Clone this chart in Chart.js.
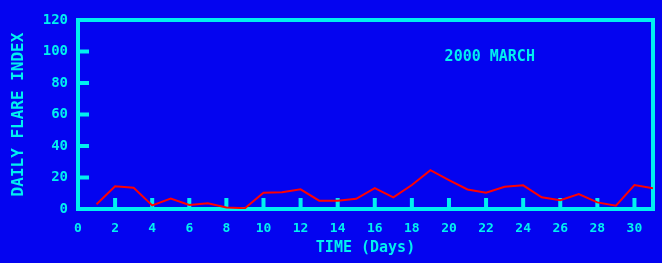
<!DOCTYPE html>
<html>
<head>
<meta charset="utf-8">
<script src="https://cdn.jsdelivr.net/npm/chart.js@4"></script>
<style>
  html, body { margin: 0; padding: 0; background: #0404F0; }
  #wrap { width: 662px; height: 263px; }
</style>
</head>
<body>
<div id="wrap"><canvas id="flareChart" width="662" height="263"></canvas></div>
<script>
// ── Data ─────────────────────────────────────────────
const days = [1, 2, 3, 4, 5, 6, 7, 8, 9, 10, 11, 12, 13, 14, 15, 16,
              17, 18, 19, 20, 21, 22, 23, 24, 25, 26, 27, 28, 29, 30, 31];
const flareIndex = [3, 14.5, 13.5, 2.3, 6.6, 2.5, 3.6, 1, 0.5, 10.3, 10.6, 12.5, 5.3, 5.3, 6.5, 13.3,
                    7.4, 15.2, 24.7, 18.4, 12.4, 10.3, 14.1, 15, 7.4, 5.6, 9.5, 4.2, 2.1, 15.2, 13.1];
const yTicks = [0, 20, 40, 60, 80, 100, 120];
const xTicks = [0, 2, 4, 6, 8, 10, 12, 14, 16, 18, 20, 22, 24, 26, 28, 30];
const chartTitle = '2000 MARCH';

const BG = '#0404F0';
const CYAN = '#00F0F0';
const RED = '#FF0000';
const MONO = '"DejaVu Sans Mono", monospace';

// ── Frame, inner ticks and label ─────────────────────
const framePlugin = {
    id: 'frame',
    beforeDraw(chart) {
        const c = chart.ctx;
        c.save();
        c.fillStyle = BG;
        c.fillRect(0, 0, chart.width, chart.height);
        c.restore();
    },
    beforeDatasetsDraw(chart) {
        const c = chart.ctx;
        const { left, right, top, bottom } = chart.chartArea;
        const xs = chart.scales.x, ys = chart.scales.y;
        c.save();
        c.fillStyle = CYAN;
        // inward tick marks
        yTicks.slice(1, -1).forEach(v => {
            const py = ys.getPixelForValue(v);
            c.fillRect(left, py - 2, 11, 4);
        });
        xTicks.slice(1).forEach(v => {
            const px = xs.getPixelForValue(v);
            c.fillRect(px - 2, bottom - 11, 4, 11);
        });
        // box
        c.strokeStyle = CYAN;
        c.lineWidth = 4;
        c.strokeRect(left, top, right - left, bottom - top);
        // label
        c.fillStyle = CYAN;
        c.font = 'bold 15px ' + MONO;
        c.textAlign = 'center';
        c.textBaseline = 'middle';
        c.fillText(chartTitle, xs.getPixelForValue(22.2), ys.getPixelForValue(96.5));
        c.restore();
    }
};

new Chart(document.getElementById('flareChart'), {
    type: 'line',
    data: {
        datasets: [{
            data: days.map((d, i) => ({ x: d, y: flareIndex[i] })),
            borderColor: RED,
            borderWidth: 2,
            pointRadius: 0,
            tension: 0,
            fill: false
        }]
    },
    options: {
        responsive: false,
        animation: false,
        devicePixelRatio: 1,
        layout: { padding: { top: 20, right: 9, left: 0, bottom: 0 } },
        plugins: { legend: { display: false }, tooltip: { enabled: false } },
        scales: {
            x: {
                type: 'linear',
                min: 0, max: 31,
                afterFit: s => { s.height = 54; },
                afterBuildTicks: s => { s.ticks = xTicks.map(v => ({ value: v })); },
                grid: { display: false, drawTicks: false },
                border: { display: false },
                ticks: { color: CYAN, padding: 12, maxRotation: 0, autoSkip: false,
                         font: { family: MONO, size: 13, weight: 'bold' } },
                title: { display: true, text: 'TIME (Days)', color: CYAN,
                         padding: { top: 0, bottom: 7 },
                         font: { family: MONO, size: 15, weight: 'bold', lineHeight: 1 } }
            },
            y: {
                min: 0, max: 120,
                afterFit: s => { s.width = 78; },
                afterBuildTicks: s => { s.ticks = yTicks.map(v => ({ value: v })); },
                grid: { display: false, drawTicks: false },
                border: { display: false },
                ticks: { color: CYAN, padding: 10,
                         font: { family: MONO, size: 14, weight: 'bold' } },
                title: { display: true, text: 'DAILY FLARE INDEX', color: CYAN,
                         padding: { top: 11, bottom: 0 },
                         font: { family: MONO, size: 16, weight: 'bold', lineHeight: 1 } }
            }
        }
    },
    plugins: [framePlugin]
});
</script>
</body>
</html>
